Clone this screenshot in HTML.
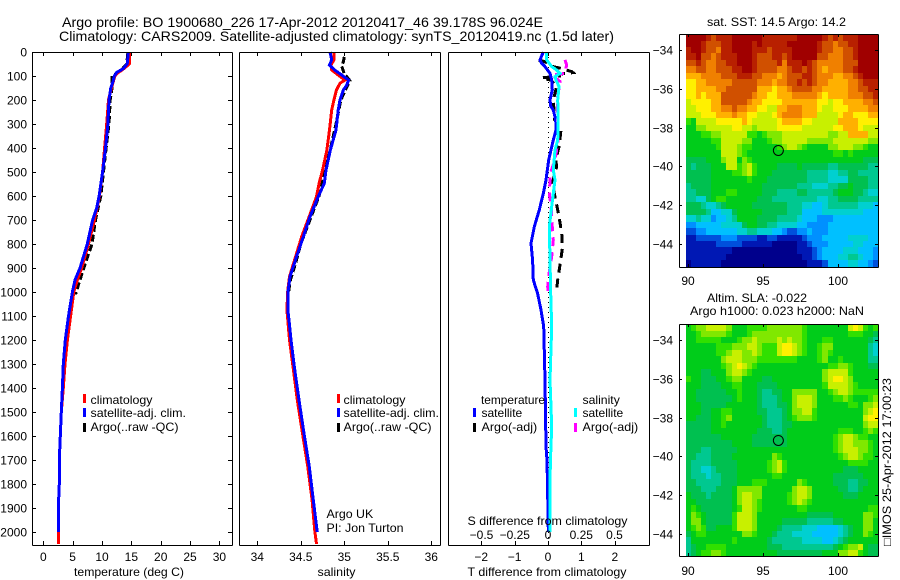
<!DOCTYPE html>
<html lang="en">
<head>
<meta charset="utf-8">
<title>Argo profile BO 1900680_226</title>
<style>
html,body{margin:0;padding:0;background:#fff;}
svg{display:block;}
text{font-family:"Liberation Sans",sans-serif;font-size:12px;fill:#000;}
.line{fill:none;shape-rendering:crispEdges;stroke-linejoin:miter;stroke-linecap:butt;}
</style>
</head>
<body>
<svg id="figure" xmlns="http://www.w3.org/2000/svg" width="900" height="580" viewBox="0 0 900 580">
  <g id="marks"></g>

  <text x="62" y="27" style="font-size:14px" textLength="481" lengthAdjust="spacingAndGlyphs">Argo profile: BO 1900680_226 17-Apr-2012 20120417_46 39.178S 96.024E</text>
  <text x="59" y="41" style="font-size:14px" textLength="555" lengthAdjust="spacingAndGlyphs">Climatology: CARS2009. Satellite-adjusted climatology: synTS_20120419.nc (1.5d later)</text>

  <text x="74" y="576" textLength="110" lengthAdjust="spacingAndGlyphs">temperature (deg C)</text>
  <text x="317.500" y="576" textLength="38" lengthAdjust="spacingAndGlyphs">salinity</text>
  <text x="467.500" y="576" textLength="159" lengthAdjust="spacingAndGlyphs">T difference from climatology</text>
  <text x="467.500" y="525" textLength="160" lengthAdjust="spacingAndGlyphs">S difference from climatology</text>

  <g>
    <rect x="83" y="394" width="3" height="9" fill="#f00"/>
    <text x="90.500" y="404" textLength="62" lengthAdjust="spacingAndGlyphs">climatology</text>
    <rect x="83" y="408" width="3" height="9" fill="#00f"/>
    <text x="90.500" y="417" textLength="95.500" lengthAdjust="spacingAndGlyphs">satellite-adj. clim.</text>
    <rect x="83" y="423" width="3" height="9" fill="#000"/>
    <text x="90.500" y="431" textLength="88" lengthAdjust="spacingAndGlyphs">Argo(..raw -QC)</text>
  </g>
  <g>
    <rect x="337" y="394" width="3" height="9" fill="#f00"/>
    <text x="343.500" y="404" textLength="62" lengthAdjust="spacingAndGlyphs">climatology</text>
    <rect x="337" y="408" width="3" height="9" fill="#00f"/>
    <text x="343.500" y="417" textLength="95.500" lengthAdjust="spacingAndGlyphs">satellite-adj. clim.</text>
    <rect x="337" y="423" width="3" height="9" fill="#000"/>
    <text x="343.500" y="431" textLength="88" lengthAdjust="spacingAndGlyphs">Argo(..raw -QC)</text>
  </g>
  <text x="326.500" y="518" textLength="46.700" lengthAdjust="spacingAndGlyphs">Argo UK</text>
  <text x="326.500" y="532" textLength="77" lengthAdjust="spacingAndGlyphs">PI: Jon Turton</text>

  <g>
    <text x="481" y="404" textLength="64" lengthAdjust="spacingAndGlyphs">temperature</text>
    <rect x="473" y="408" width="3" height="9" fill="#00f"/>
    <text x="481.500" y="417" textLength="40.700" lengthAdjust="spacingAndGlyphs">satellite</text>
    <rect x="473" y="423" width="3" height="9" fill="#000"/>
    <text x="481.500" y="431" textLength="55.700" lengthAdjust="spacingAndGlyphs">Argo(-adj)</text>
    <text x="582.500" y="404" textLength="37.300" lengthAdjust="spacingAndGlyphs">salinity</text>
    <rect x="574" y="408" width="3" height="9" fill="#0ff"/>
    <text x="582.500" y="417" textLength="40.700" lengthAdjust="spacingAndGlyphs">satellite</text>
    <rect x="574" y="423" width="3" height="9" fill="#f0f"/>
    <text x="582.500" y="431" textLength="55.700" lengthAdjust="spacingAndGlyphs">Argo(-adj)</text>
  </g>

  <text x="707" y="26" textLength="139" lengthAdjust="spacingAndGlyphs">sat. SST: 14.5 Argo: 14.2</text>
  <text x="707" y="302" textLength="100" lengthAdjust="spacingAndGlyphs">Altim. SLA: -0.022</text>
  <text x="690" y="315" textLength="174" lengthAdjust="spacingAndGlyphs">Argo h1000: 0.023 h2000: NaN</text>
  <text transform="translate(891,546) rotate(-90)" textLength="168" lengthAdjust="spacingAndGlyphs">□IMOS 25-Apr-2012 17:00:23</text>
</svg>

<script>
// ---- Profile data: depth (m) and measured values ----
const tempDepths = [0,50,70,85,100,120,150,200,300,400,500,600,650,700,800,900,950,1000,1100,1200,1300,1400,1500,1600,1700,1800,1900,2000];
const tempSatellite = [14.5,14.3,13.6,12.5,12.1,11.9,11.5,11.2,11,10.6,10.1,9.5,9.1,8.4,7.5,6.25,5.4,4.95,4.3,3.75,3.4,3.25,3.07,2.9,2.73,2.73,2.56,2.56];
const climDepthsT = [0,50,70,85,100,150,200,300,400,500,600,650,700,800,900,950,1000,1100,1200,1300,1400,1500,1600,1700,1800,1900,2000,2050];
const tempClimatology = [14.75,14.65,13.7,12.8,12.2,11.6,11.1,10.8,10.45,10.1,9.55,9.15,8.7,7.7,6.55,5.8,5.2,4.65,4.1,3.7,3.4,3.07,2.9,2.73,2.73,2.56,2.56,2.56];
const argoDepthsT = [5,50,80,100,150,200,300,400,500,600,700,800,900,950,1000,1010];
const tempArgo = [14.4,14.2,13,11.7,11.7,11.4,11.2,10.7,10.25,9.8,8.9,8.3,6.9,6.25,5.6,5.5];

const saliDepthsSat = [0,33,54,75,96,117,137,158,200,242,325,408,492,547,603,686,769,853,936,992,1075,1117,1200,1311,1450,1589,1728,1867,1992,2000];
const saliSatellite = [34.836,34.855,34.83,34.89,34.97,35.05,35.03,34.99,34.95,34.93,34.905,34.84,34.79,34.77,34.70,34.606,34.53,34.45,34.376,34.355,34.35,34.364,34.387,34.425,34.479,34.537,34.598,34.644,34.686,34.69];
const saliDepthsClim = [0,33,54,75,96,117,130,158,200,242,325,408,492,547,603,686,769,853,936,992,1075,1117,1200,1311,1450,1589,1728,1867,1992,2050];
const saliClimatology = [34.88,34.88,34.847,34.855,34.93,35.008,34.95,34.91,34.88,34.855,34.83,34.80,34.75,34.71,34.68,34.597,34.51,34.44,34.37,34.35,34.34,34.35,34.37,34.41,34.46,34.52,34.58,34.63,34.66,34.68];
const saliDepthsArgo = [20,40,60,90,120,137,200,300,420,550,600,700,800,880,950,1000];
const saliArgo = [35.0,34.99,34.97,35.0,35.065,35.04,34.96,34.905,34.83,34.74,34.71,34.605,34.50,34.44,34.38,34.36];

const diffDepthsTSat = [0,33,47,61,89,117,158,200,225,242,283,325,367,408,450,533,589,658,728,797,867,950,1006,1075,1144,1367,1644,1700,1850,1990,2000];
const diffTSatellite = [-0.14,-0.24,-0.19,-0.09,0.06,0.11,0.13,0.06,0.08,0.16,0.23,0.24,0.16,0.09,0.02,-0.06,-0.14,-0.26,-0.41,-0.51,-0.46,-0.44,-0.31,-0.21,-0.13,-0.09,-0.06,-0.03,-0.01,0.01,0.01];
const diffDepthsSSat = [0,33,61,75,89,103,117,144,200,283,367,408,492,533,589,644,728,867,1006,1144,1367,1560,1672,1780,1990,2000];
const diffSSatellite = [-0.01,-0.01,0.028,0.065,0.09,0.053,0.06,0.083,0.073,0.077,0.073,0.053,0.04,0.053,0.04,0.028,0.01,0.015,0.02,0.028,0.015,0.028,0.02,0.015,0.015,0.015];
const diffDepthsSArgo = [33,54,89,96,123,186,283,367,450,505,589,644,714,783,853,922,978,1000];
const diffSArgo = [0.128,0.14,0.128,0.028,0.09,0.073,0.073,0.077,0.053,0.018,0.01,0.023,0.03,0.04,0.028,0.008,-0.002,0];
const diffDepthsTArgo = [33,40,61,68,82,86,92,100,108,118,144,200,283,325,394,450,478,547,617,686,755,818,887,950,1000];
const diffTArgo = [-0.28,-0.1,0.15,0.38,0.72,0.75,0.36,0.35,-0.19,0.1,0.26,0.16,0.2,0.39,0.33,0.23,0.26,0.13,0.23,0.33,0.41,0.43,0.36,0.29,0.25];

// ---- Tick values and labels ----
const depthTicks = [0,100,200,300,400,500,600,700,800,900,1000,1100,1200,1300,1400,1500,1600,1700,1800,1900,2000];
const tempTicks = [0,5,10,15,20,25,30];
const saliTicks = [34,34.5,35,35.5,36];
const diffTTicks = [-2,-1,0,1,2];
const diffTLabels = ['−2','−1','0','1','2'];
const diffSTicks = [-0.5,-0.25,0,0.25,0.5];
const diffSLabels = ['−0.5','−0.25','0','0.25','0.5'];
const lonTicks = [90,95,100];
const latTicks = [-34,-36,-38,-40,-42,-44];
const latLabels = ['−34','−36','−38','−40','−42','−44'];
const argoLon = 96.024;
const argoLat = -39.178;

// ---- Gridded map values, one base-18 colour level per cell, top row is north ----
const sstRows = [
"hhhhg fgggh hhhhh ggggg gghhh hhgfg fgggh hhh",
"hhhgf ffggh hhhgh ggggg hhhhh hgffe ffggh hhh",
"ghhgf feggh hhhgg gfggg ghhhh hgffe effgh hhh",
"gghff efggg hhhgf ffggf ghhhh hffee effgh hhh",
"ffgfe effgg hhhgf fffge ggghg feeee efffh hhh",
"eeffe efffg ghhgf fffee fggfg fedee effgh hhh",
"dddee eefff gggff eeede fffgg feeed deefg hhh",
"ccdde eeeef ffffe eedee ffgfg feedd ddeef ggg",
"ccddd deeff ffffd ddcdd effff eeddd ddeef fgg",
"ccdcd ddfff fffed dccdd deeee edcdd ddeee ffg",
"bcccc ddfff ffedd ccccd ddddd dccbc cdddd eef",
"bbccc ddeef eeddc cbbdd eeedd dcbbc ccddd dee",
"bbbcc cddde ddccb bbcde eeedd dbbbb cddcc cdd",
"98bbb bcccc cdcbb bbbcd dddcc bbbbb ddddc ccc",
"88aab bbbbc cbbab bbbcc cccbb bbbbc cdddc bbb",
"88899 aabbb bb998 9aaab bbbbb bbbaa bbddd dbb",
"88888 99bbb baa88 89aab bbbba aaaab bbbbb baa",
"88888 89bbb a9988 8889a bba98 888aa bbbaa 988",
"88888 88bbb a9888 88888 88888 88889 98988 888",
"77778 88abb 8a988 88888 88888 88888 88888 777",
"76777 888bb 9ab98 88877 77877 77766 77777 766",
"77777 88889 9ab98 88777 77776 66655 66776 666",
"77777 88888 88988 87777 77776 66655 55777 766",
"67777 88888 88888 77777 77666 55566 77877 766",
"66777 88899 88888 77766 66776 66667 88877 655",
"66557 89988 88887 77666 66666 65566 77776 666",
"77765 56788 88877 77777 66655 44566 66665 554",
"77776 44557 88888 77777 66644 44555 55555 444",
"55655 34456 88887 77766 66544 43334 44444 444",
"33444 44555 57887 76655 55443 33344 44444 444",
"22334 44444 55665 55443 22334 33344 44444 444",
"11222 22333 22221 12211 11123 33444 44555 544",
"11111 12222 21111 11000 00112 33344 44455 444",
"11111 11110 00000 00000 00111 23444 45554 443",
"11111 11100 00000 00000 00011 23444 55665 443",
"01111 11000 00000 00000 00001 11244 44554 432"
];
const slaRows = [
"89aab bbba8 88999 9aaaa aaa98 88888 88bcb 989",
"889aa aaa98 889aa aaaaa aaa98 88888 88999 887",
"88999 99888 9aaba aaaba baa98 88998 88888 876",
"88888 8999a aabba 999bc cba98 89aa8 88888 865",
"88888 899ab baaba 999bc cba98 89a98 88888 865",
"88888 88abb baaa9 99999 99888 89a88 98888 866",
"88888 889ab cba98 88888 88888 88899 aa988 877",
"88877 888ab ba988 88888 88888 88abb bb988 888",
"98877 7889a a8888 77888 88888 88abc cba88 888",
"88877 77889 98887 77788 88888 889bb bba98 888",
"88777 77788 98887 66778 8aaaa a889a bba99 999",
"88777 77778 98887 66678 8abbb a8889 9a988 89a",
"88877 77788 88887 66677 8abbb a8888 88998 aab",
"88877 88998 88887 76667 8aabb 98888 88888 abc",
"88777 889a8 88888 76667 89aaa 98888 88888 bcc",
"77777 88988 88888 76667 78888 88888 88888 abb",
"77777 88888 88887 77667 88888 88888 99988 9a9",
"77777 77888 88877 77777 88888 88889 abba9 988",
"77777 77778 88877 77777 88888 88889 abbaa a98",
"77766 77777 88888 88888 88888 88889 abbba a98",
"77666 77778 88888 88a98 88888 88888 9abba 998",
"76666 77777 88888 89ab9 88888 88888 88999 988",
"76655 67777 88888 89ab9 88888 88888 87778 888",
"76665 66777 88888 88998 88888 88887 77777 888",
"77666 66777 88899 98888 88a98 88887 77667 788",
"77766 67778 aaaaa 88888 8abba 88888 77667 888",
"87776 77778 abbaa 88888 9abba 88888 87778 888",
"88777 77778 abba9 88888 9aba9 88888 88888 888",
"89877 77778 9bba9 88888 88998 88888 88888 899",
"8a987 77779 bbba8 88888 88887 77778 88888 aa9",
"8aa87 77779 bbba8 88887 77776 66667 78888 aa8",
"89a97 78889 bbba8 88876 66655 54444 56788 aa8",
"78998 88888 8aa98 88766 65555 44444 56788 a98",
"68888 88889 88888 87666 66655 55445 67888 888",
"67889 99988 88888 87776 66666 66667 89aab 877",
"67899 aa988 88888 88877 77777 77888 aabb9 877"
];

// ---- Axis functions ----
function yDepth(d){ return 52 + d * 0.24; }
function xTemp(v){ return 43.3 + v * 5.87; }
function xSali(v){ return 257.3 + (v - 34) * 87; }
function xDiffT(v){ return 548 + v * 33.4; }
function xDiffS(v){ return 548 + v * 133; }
function xLon(v){ return 688 + (v - 90) * 15; }
function ySstLat(v){ return 50 + (-34 - v) * 19.4; }
function ySlaLat(v){ return 340 + (-34 - v) * 19.4; }

const levelColors = ['#00008c','#0018b4','#0050dc','#0090ff','#00c0ff','#00d0d0','#00c890','#00c050','#00cc1a','#30e000','#80e800','#c8f000','#fff000','#ffb000','#f08000','#d05000','#b82000','#a00000'];
const NS = 'http://www.w3.org/2000/svg';
const root = document.getElementById('marks');

function drawRect(x, y, w, h, fill, name){
  const el = document.createElementNS(NS, 'rect');
  el.setAttribute('x', x);
  el.setAttribute('y', y);
  el.setAttribute('width', w);
  el.setAttribute('height', h);
  el.setAttribute('fill', fill);
  el.setAttribute('shape-rendering', 'crispEdges');
  
  
  root.appendChild(el);
}
function drawLine(x1, y1, x2, y2, name, width, dash){
  const el = document.createElementNS(NS, 'line');
  el.setAttribute('x1', x1);
  el.setAttribute('y1', y1);
  el.setAttribute('x2', x2);
  el.setAttribute('y2', y2);
  el.setAttribute('stroke', '#000');
  el.setAttribute('stroke-width', width || 1);
  el.setAttribute('shape-rendering', 'crispEdges');
  if (dash) el.setAttribute('stroke-dasharray', dash);
  
  
  root.appendChild(el);
}
function drawLabel(x, y, str, anchor, name){
  const el = document.createElementNS(NS, 'text');
  el.setAttribute('x', x);
  el.setAttribute('y', y);
  el.setAttribute('text-anchor', anchor);
  el.textContent = str;
  
  
  root.appendChild(el);
}
function drawSeries(depths, values, xFn, color, width, dash, name){
  const el = document.createElementNS(NS, 'polyline');
  const pts = depths.map(function(d, i){ return xFn(values[i]).toFixed(1) + ',' + yDepth(d).toFixed(1); });
  el.setAttribute('points', pts.join(' '));
  el.setAttribute('class', 'line');
  el.setAttribute('stroke', color);
  el.setAttribute('stroke-width', width);
  if (dash) el.setAttribute('stroke-dasharray', dash);
  
  
  root.appendChild(el);
}
function drawFrame(left, top, right, bottom, name){
  drawLine(left, top, right, top, name + '-top');
  drawLine(left, bottom, right, bottom, name + '-bottom');
  drawLine(left, top, left, bottom, name + '-left');
  drawLine(right, top, right, bottom, name + '-right');
}
function drawHeatmap(rows, yFn, name){
  const lonStep = 12.8 / 38;
  const latStep = 1 / 3;
  const lon0 = 89.87;
  const lat0 = -33.18;
  rows.forEach(function(row, r){
    const cells = row.replace(/ /g, '');
    for (let c = 0; c < cells.length; c++){
      const level = parseInt(cells[c], 18);
      const x0 = Math.round(xLon(lon0 + c * lonStep));
      const x1 = Math.round(xLon(lon0 + (c + 1) * lonStep));
      const y0 = Math.round(yFn(lat0 - r * latStep));
      const y1 = Math.round(yFn(lat0 - (r + 1) * latStep));
      drawRect(x0, y0, x1 - x0, y1 - y0, levelColors[level], name);
    }
  });
}
function drawMapAxes(yFn, top, bottom, labelY, name){
  drawFrame(679.5, top + 0.5, 878.5, bottom + 0.5, name + '-frame');
  lonTicks.forEach(function(v){
    drawLine(xLon(v) + 0.5, top, xLon(v) + 0.5, top + 3, name + '-x-tick');
    drawLine(xLon(v) + 0.5, bottom, xLon(v) + 0.5, bottom - 3, name + '-x-tick');
    drawLabel(xLon(v), labelY, String(v), 'middle', name + '-x-tick-label');
  });
  latTicks.forEach(function(v, i){
    const y = Math.round(yFn(v)) + 0.5;
    drawLine(679, y, 682, y, name + '-y-tick');
    drawLine(878, y, 875, y, name + '-y-tick');
    drawLabel(673, y + 4, latLabels[i], 'end', name + '-y-tick-label');
  });
  const el = document.createElementNS(NS, 'circle');
  el.setAttribute('cx', xLon(argoLon));
  el.setAttribute('cy', yFn(argoLat));
  el.setAttribute('r', 5);
  el.setAttribute('fill', 'none');
  el.setAttribute('stroke', '#000');
  el.setAttribute('stroke-width', 1);
  
  
  root.appendChild(el);
}

// ---- Panel 1: temperature ----
drawSeries(argoDepthsT, tempArgo, xTemp, '#000', 3, '7 3', 'temperature-argo-line');
drawSeries(climDepthsT, tempClimatology, xTemp, '#f00', 3, null, 'temperature-climatology-line');
drawSeries(tempDepths, tempSatellite, xTemp, '#00f', 3, null, 'temperature-satellite-line');
drawFrame(32.5, 52.5, 232.5, 545.5, 'temperature-panel-frame');
tempTicks.forEach(function(v){
  const x = Math.round(xTemp(v)) + 0.5;
  drawLine(x, 52, x, 56, 'temperature-x-tick');
  drawLine(x, 545, x, 541, 'temperature-x-tick');
  drawLabel(xTemp(v), 561, String(v), 'middle', 'temperature-x-tick-label');
});
depthTicks.forEach(function(d){
  const y = Math.round(yDepth(d)) + 0.5;
  drawLine(32, y, 36, y, 'depth-tick');
  drawLine(232, y, 228, y, 'depth-tick');
  drawLabel(27, y + 4, String(d), 'end', 'depth-tick-label');
});

// ---- Panel 2: salinity ----
drawSeries(saliDepthsArgo, saliArgo, xSali, '#000', 3, '7 3', 'salinity-argo-line');
drawSeries(saliDepthsClim, saliClimatology, xSali, '#f00', 3, null, 'salinity-climatology-line');
drawSeries(saliDepthsSat, saliSatellite, xSali, '#00f', 3, null, 'salinity-satellite-line');
drawFrame(239.5, 52.5, 440.5, 545.5, 'salinity-panel-frame');
saliTicks.forEach(function(v){
  const x = Math.round(xSali(v)) + 0.5;
  drawLine(x, 52, x, 56, 'salinity-x-tick');
  drawLine(x, 545, x, 541, 'salinity-x-tick');
  drawLabel(xSali(v), 561, String(v), 'middle', 'salinity-x-tick-label');
});

// ---- Panel 3: differences ----
drawLine(548.5, 52, 548.5, 545, 'zero-difference-line', 1, '1 4');
drawSeries(diffDepthsTArgo, diffTArgo, xDiffT, '#000', 3, '9 6', 'temperature-difference-argo-line');
drawSeries(diffDepthsTSat, diffTSatellite, xDiffT, '#00f', 3, null, 'temperature-difference-satellite-line');
drawSeries(diffDepthsSArgo, diffSArgo, xDiffS, '#f0f', 3, '9 6', 'salinity-difference-argo-line');
drawSeries(diffDepthsSSat, diffSSatellite, xDiffS, '#0ff', 3, null, 'salinity-difference-satellite-line');
drawFrame(448.5, 52.5, 649.5, 545.5, 'difference-panel-frame');
diffTTicks.forEach(function(v, i){
  const x = Math.round(xDiffT(v)) + 0.5;
  drawLine(x, 52, x, 56, 'difference-x-tick');
  drawLine(x, 545, x, 541, 'difference-x-tick');
  drawLabel(xDiffT(v), 561, diffTLabels[i], 'middle', 't-difference-tick-label');
});
diffSTicks.forEach(function(v, i){
  drawLabel(xDiffS(v), 539, diffSLabels[i], 'middle', 's-difference-tick-label');
});

// ---- Maps ----
drawHeatmap(sstRows, ySstLat, 'sst-map-cell');
drawMapAxes(ySstLat, 34, 267, 285, 'sst-map');
drawHeatmap(slaRows, ySlaLat, 'sla-map-cell');
drawMapAxes(ySlaLat, 324, 556, 575, 'sla-map');
</script>
</body>
</html>
